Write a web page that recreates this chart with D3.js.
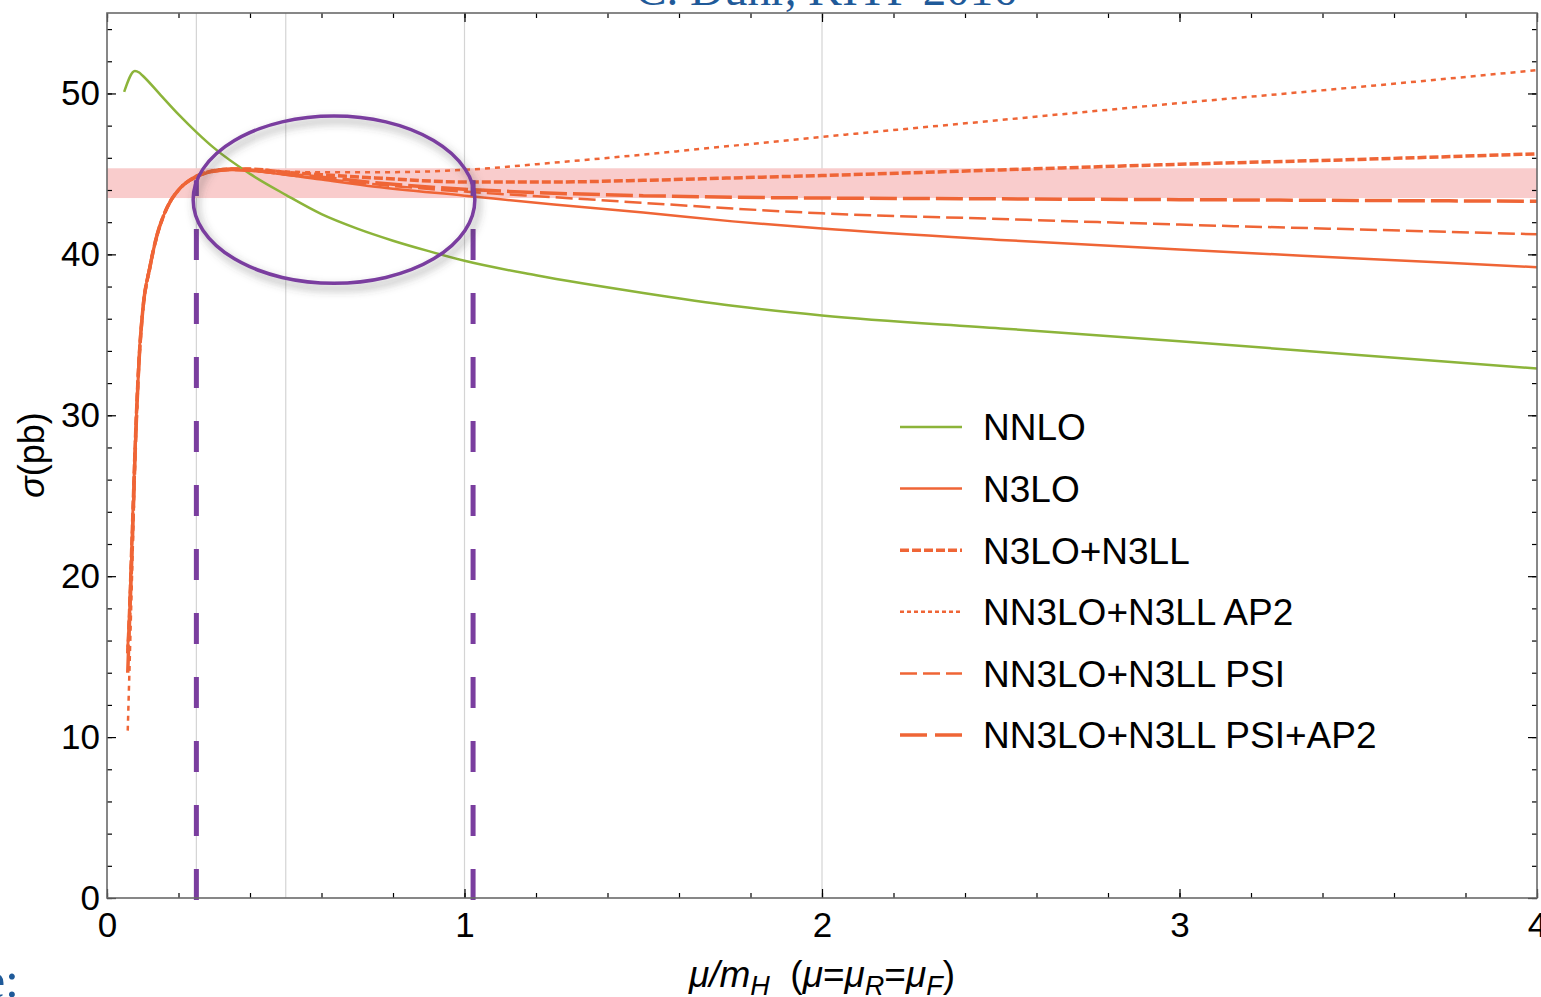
<!DOCTYPE html>
<html>
<head>
<meta charset="utf-8">
<script src="https://cdn.jsdelivr.net/npm/d3@7"></script>
<style>
  body { margin: 0; background: #fff; }
  svg { display: block; }
  text { font-family: "Liberation Sans", Arial, sans-serif; }
</style>
</head>
<body>
<svg id="chart" width="1541" height="997"></svg>
<script>
// x grid (mu/mH) used by all the orange curves
const xOrange = [0.058, 0.062, 0.07, 0.08, 0.09, 0.1, 0.12, 0.14, 0.16, 0.18, 0.2, 0.25, 0.3, 0.35, 0.4, 0.5, 0.6, 0.75, 1.0, 1.25, 1.5, 1.75, 2.0, 2.5, 3.0, 3.5, 4.0];
const n3lo       = [15.6, 17.5, 22.5, 29.0, 33.8, 36.6, 39.3, 41.2, 42.5, 43.4, 44.0, 44.8, 45.15, 45.25, 45.2, 44.95, 44.65, 44.2, 43.65, 43.1, 42.6, 42.05, 41.6, 40.9, 40.3, 39.75, 39.2];
const n3loN3ll   = [15.2, 17.2, 22.3, 28.8, 33.6, 36.5, 39.2, 41.2, 42.5, 43.4, 44.0, 44.85, 45.2, 45.3, 45.3, 45.1, 44.95, 44.75, 44.5, 44.5, 44.6, 44.75, 44.9, 45.25, 45.6, 45.9, 46.25];
const nn3loAp2   = [10.4, 13.5, 20.0, 27.8, 33.2, 36.3, 39.1, 41.1, 42.5, 43.4, 44.0, 44.85, 45.2, 45.3, 45.3, 45.15, 45.1, 45.1, 45.25, 45.7, 46.2, 46.75, 47.3, 48.35, 49.4, 50.4, 51.45];
const nn3loPsi   = [15.4, 17.4, 22.4, 28.9, 33.7, 36.6, 39.3, 41.2, 42.5, 43.4, 44.0, 44.8, 45.15, 45.25, 45.2, 44.95, 44.7, 44.35, 43.9, 43.55, 43.2, 42.85, 42.55, 42.2, 41.85, 41.55, 41.25];
const nn3loPsiAp2 = [14.0, 16.5, 21.5, 28.4, 33.5, 36.5, 39.2, 41.2, 42.5, 43.4, 44.0, 44.85, 45.2, 45.3, 45.25, 45.0, 44.8, 44.45, 44.05, 43.8, 43.65, 43.55, 43.5, 43.45, 43.4, 43.35, 43.3];

const xNnlo = [0.048, 0.078, 0.09, 0.1, 0.15, 0.2, 0.25, 0.3, 0.4, 0.5, 0.6, 0.7, 0.8, 0.9, 1.0, 1.2, 1.5, 1.75, 2.0, 2.5, 3.0, 3.5, 4.0];
const nnlo  = [50.1, 51.4, 51.3, 51.1, 49.9, 48.7, 47.6, 46.6, 45.0, 43.7, 42.5, 41.6, 40.85, 40.2, 39.6, 38.7, 37.6, 36.8, 36.2, 35.4, 34.6, 33.75, 32.9];

const band = [43.5, 45.35];
const gridX = [0.25, 0.5, 1, 2];
const markerX = [0.25, 1.024];
const markerTop = 44.6;
const ellipseC = [0.635, 43.4];
const ellipseR = [0.394, 5.2];

const xTicks = [0, 1, 2, 3, 4];
const yTicks = [0, 10, 20, 30, 40, 50];
const xMinor = d3.range(0, 4.001, 0.2);
const yMinor = d3.range(0, 55.001, 2);

const labels = ['NNLO', 'N3LO', 'N3LO+N3LL', 'NN3LO+N3LL AP2', 'NN3LO+N3LL PSI', 'NN3LO+N3LL PSI+AP2'];

const green = '#8cb43a', orange = '#ef6536', purple = '#7a3e9f';
const styles = [
  { color: green,  width: 2.5, dash: null,   legendDash: null },
  { color: orange, width: 2.5, dash: null,   legendDash: null },
  { color: orange, width: 3.5, dash: '9,3',  legendDash: '9,3' },
  { color: orange, width: 2.5, dash: '5,5',  legendDash: '4,3' },
  { color: orange, width: 2.5, dash: '17,6', legendDash: '17,6' },
  { color: orange, width: 3.5, dash: '27,6', legendDash: '27,8' },
];
const series = [
  { xs: xNnlo, ys: nnlo },
  { xs: xOrange, ys: n3lo },
  { xs: xOrange, ys: n3loN3ll },
  { xs: xOrange, ys: nn3loAp2 },
  { xs: xOrange, ys: nn3loPsi },
  { xs: xOrange, ys: nn3loPsiAp2 },
];

const pLeft = 107, pRight = 1537, pTop = 13, pBottom = 898;
const x = d3.scaleLinear().domain([0, 4]).range([pLeft, pRight]);
const y = d3.scaleLinear().domain([0, 55]).range([pBottom, pTop]);

const svg = d3.select('#chart');
const defs = svg.append('defs');
defs.append('clipPath').attr('id', 'plot').append('rect')
  .attr('x', pLeft).attr('y', pTop).attr('width', pRight - pLeft).attr('height', pBottom - pTop);
defs.append('filter').attr('id', 'shadow').attr('x', '-20%').attr('y', '-20%').attr('width', '140%').attr('height', '150%')
  .append('feDropShadow').attr('dx', 3).attr('dy', 5).attr('stdDeviation', 4)
  .attr('flood-color', '#444').attr('flood-opacity', 0.55);

// title remains (cut at the top)
svg.append('text').attr('x', 826).attr('y', 5).attr('text-anchor', 'middle')
  .style('font-family', '"Liberation Serif", "Times New Roman", serif')
  .style('font-size', '47px').attr('fill', '#1f5a99').text('C. Duhr, KITP 2016');
svg.append('text').attr('x', 19).attr('y', 997).attr('text-anchor', 'end')
  .style('font-family', '"Liberation Serif", "Times New Roman", serif')
  .style('font-size', '50px').attr('fill', '#1f5a99').text('e:');

const plot = svg.append('g').attr('clip-path', 'url(#plot)');

plot.append('g').selectAll('line').data(gridX).enter().append('line')
  .attr('x1', d => x(d)).attr('x2', d => x(d)).attr('y1', pTop).attr('y2', pBottom)
  .attr('stroke', '#d4d4d4').attr('stroke-width', 1.2);

plot.append('rect').attr('x', pLeft).attr('width', pRight - pLeft)
  .attr('y', y(band[1])).attr('height', y(band[0]) - y(band[1]))
  .attr('fill', '#f9cccc');

const line = d3.line().curve(d3.curveMonotoneX);
plot.append('g').selectAll('path').data(series).enter().append('path')
  .attr('d', s => line(s.xs.map((v, i) => [x(v), y(s.ys[i])])))
  .attr('fill', 'none')
  .attr('stroke', (s, i) => styles[i].color)
  .attr('stroke-width', (s, i) => styles[i].width)
  .attr('stroke-dasharray', (s, i) => styles[i].dash);

// purple dashed markers
svg.append('g').selectAll('line').data(markerX).enter().append('line')
  .attr('x1', d => x(d)).attr('x2', d => x(d))
  .attr('y1', y(0) + 2).attr('y2', y(markerTop))
  .attr('stroke', purple).attr('stroke-width', 5)
  .attr('stroke-dasharray', '31,33');

svg.append('ellipse')
  .attr('cx', x(ellipseC[0])).attr('cy', y(ellipseC[1]))
  .attr('rx', x(ellipseR[0]) - x(0)).attr('ry', y(0) - y(ellipseR[1]))
  .attr('fill', 'none').attr('stroke', purple).attr('stroke-width', 3.5)
  .attr('filter', 'url(#shadow)');

// frame + ticks
function styleAxis(g) {
  g.select('.domain').remove();
  g.selectAll('.tick line').attr('stroke', '#000').attr('stroke-width', 1.2);
  g.selectAll('text').style('font-size', '35px').attr('fill', '#000')
    .style('font-family', '"Liberation Sans", Arial, sans-serif');
}
svg.append('g').attr('transform', `translate(0,${pBottom})`)
  .call(d3.axisBottom(x).tickValues(xMinor).tickSize(-5).tickFormat('')).call(styleAxis);
svg.append('g').attr('transform', `translate(0,${pTop})`)
  .call(d3.axisTop(x).tickValues(xMinor).tickSize(-5).tickFormat('')).call(styleAxis);
svg.append('g').attr('transform', `translate(${pLeft},0)`)
  .call(d3.axisLeft(y).tickValues(yMinor).tickSize(-5).tickFormat('')).call(styleAxis);
svg.append('g').attr('transform', `translate(${pRight},0)`)
  .call(d3.axisRight(y).tickValues(yMinor).tickSize(-5).tickFormat('')).call(styleAxis);

const xAxis = svg.append('g').attr('transform', `translate(0,${pBottom})`)
  .call(d3.axisBottom(x).tickValues(xTicks).tickSize(-9).tickFormat(d3.format('d'))).call(styleAxis);
xAxis.selectAll('text').attr('y', 39).attr('dy', 0);
svg.append('g').attr('transform', `translate(0,${pTop})`)
  .call(d3.axisTop(x).tickValues(xTicks).tickSize(-9).tickFormat('')).call(styleAxis);
svg.append('g').attr('transform', `translate(${pLeft},0)`)
  .call(d3.axisLeft(y).tickValues(yTicks).tickSize(-9).tickPadding(7).tickFormat(d3.format('d'))).call(styleAxis);
svg.append('g').attr('transform', `translate(${pRight},0)`)
  .call(d3.axisRight(y).tickValues(yTicks).tickSize(-9).tickFormat('')).call(styleAxis);

svg.append('rect').attr('x', pLeft).attr('y', pTop).attr('width', pRight - pLeft).attr('height', pBottom - pTop)
  .attr('fill', 'none').attr('stroke', '#6a6a6a').attr('stroke-width', 1.6);

// axis titles
const yl = svg.append('text').attr('transform', 'translate(44,455) rotate(-90)')
  .attr('text-anchor', 'middle').style('font-size', '36px');
yl.append('tspan').style('font-style', 'italic').text('σ');
yl.append('tspan').text('(pb)');

const xl = svg.append('text').attr('x', 822).attr('y', 987).attr('text-anchor', 'middle').style('font-size', '37px');
xl.append('tspan').style('font-style', 'italic').text('μ/m');
xl.append('tspan').style('font-style', 'italic').style('font-size', '27px').attr('dy', 8).text('H');
xl.append('tspan').attr('dy', -8).text('\u00a0\u00a0(');
xl.append('tspan').style('font-style', 'italic').text('μ');
xl.append('tspan').text('=');
xl.append('tspan').style('font-style', 'italic').text('μ');
xl.append('tspan').style('font-style', 'italic').style('font-size', '27px').attr('dy', 8).text('R');
xl.append('tspan').attr('dy', -8).text('=');
xl.append('tspan').style('font-style', 'italic').text('μ');
xl.append('tspan').style('font-style', 'italic').style('font-size', '27px').attr('dy', 8).text('F');
xl.append('tspan').attr('dy', -8).text(')');

// legend
const legend = svg.append('g').selectAll('g').data(labels).enter().append('g')
  .attr('transform', (d, i) => `translate(900,${427 + i * 61.6})`);
legend.append('line').attr('x1', 0).attr('x2', 62).attr('y1', 0).attr('y2', 0)
  .attr('stroke', (d, i) => styles[i].color)
  .attr('stroke-width', (d, i) => styles[i].width)
  .attr('stroke-dasharray', (d, i) => styles[i].legendDash);
legend.append('text').attr('x', 83).attr('dy', '0.36em').style('font-size', '37px').text(d => d);
</script>
</body>
</html>
